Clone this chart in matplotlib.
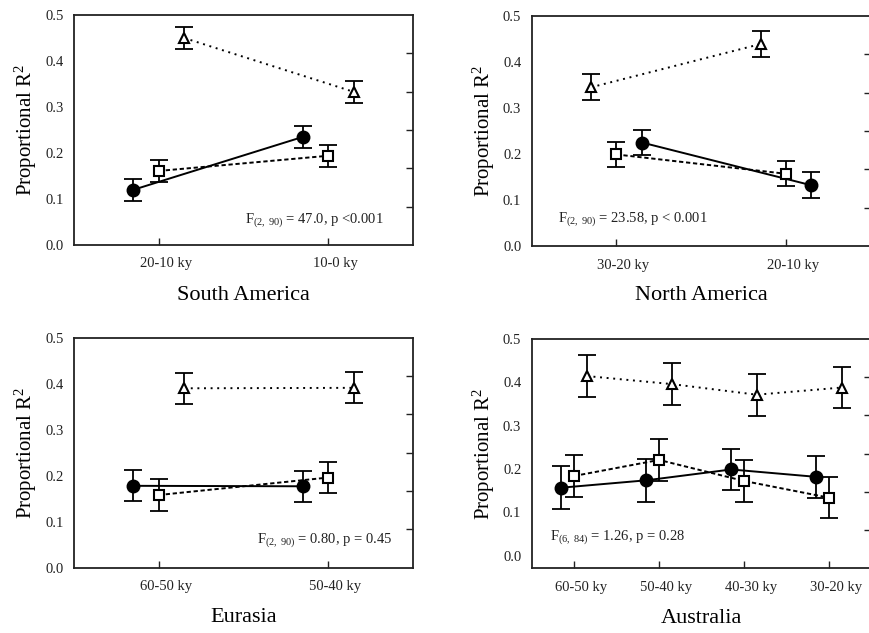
import matplotlib
matplotlib.use("Agg")
import matplotlib.pyplot as plt
import matplotlib.transforms as mtransforms
import numpy as np

plt.rcParams['font.family'] = ['Liberation Serif', 'DejaVu Serif']
plt.rcParams['mathtext.default'] = 'regular'

# ---------------- data ----------------
sa_periods = ["20-10 ky", "10-0 ky"]
sa_circle = [0.120, 0.235]
sa_circle_err = [0.024, 0.024]
sa_square = [0.161, 0.194]
sa_square_err = [0.024, 0.024]
sa_triangle = [0.450, 0.333]
sa_triangle_err = [0.024, 0.024]
sa_stat = "F$_{(2,\\,90)}$ = 47.0, p <0.001"

na_periods = ["30-20 ky", "20-10 ky"]
na_circle = [0.225, 0.132]
na_circle_err = [0.028, 0.028]
na_square = [0.199, 0.157]
na_square_err = [0.0275, 0.0275]
na_triangle = [0.345, 0.439]
na_triangle_err = [0.028, 0.028]
na_stat = "F$_{(2,\\,90)}$ = 23.58, p < 0.001"

eu_periods = ["60-50 ky", "50-40 ky"]
eu_circle = [0.178, 0.177]
eu_circle_err = [0.034, 0.034]
eu_square = [0.158, 0.196]
eu_square_err = [0.034, 0.034]
eu_triangle = [0.390, 0.391]
eu_triangle_err = [0.034, 0.034]
eu_stat = "F$_{(2,\\,90)}$ = 0.80, p = 0.45"

au_periods = ["60-50 ky", "50-40 ky", "40-30 ky", "30-20 ky"]
au_circle = [0.157, 0.174, 0.199, 0.182]
au_circle_err = [0.049, 0.049, 0.048, 0.048]
au_square = [0.184, 0.221, 0.1725, 0.134]
au_square_err = [0.048, 0.048, 0.048, 0.048]
au_triangle = [0.4145, 0.396, 0.3715, 0.388]
au_triangle_err = [0.048, 0.048, 0.048, 0.048]
au_stat = "F$_{(6,\\,84)}$ = 1.26, p = 0.28"

# ---------------- figure ----------------
W, H = 869, 633
fig = plt.figure(figsize=(W / 100, H / 100), dpi=100)


def px_axes(left, top, width, height):
    return fig.add_axes([left / W, (H - top - height) / H, width / W, height / H])


panels = [
    dict(rect=(74, 15, 339, 230), periods=sa_periods, title="South America",
         series=[(sa_circle, sa_circle_err, -0.15), (sa_square, sa_square_err, 0.0),
                 (sa_triangle, sa_triangle_err, 0.15)],
         stat=sa_stat, stat_pos=(0.504, 0.109), ylim=(0, 0.5)),
    dict(rect=(531.7, 16, 339, 230), periods=na_periods, title="North America",
         series=[(na_circle, na_circle_err, 0.15), (na_square, na_square_err, 0.0),
                 (na_triangle, na_triangle_err, -0.15)],
         stat=na_stat, stat_pos=(0.078, 0.117), ylim=(0, 0.5)),
    dict(rect=(74, 337.7, 339, 230), periods=eu_periods, title="Eurasia",
         series=[(eu_circle, eu_circle_err, -0.15), (eu_square, eu_square_err, 0.0),
                 (eu_triangle, eu_triangle_err, 0.15)],
         stat=eu_stat, stat_pos=(0.539, 0.12), ylim=(0, 0.5)),
    dict(rect=(531.7, 339, 339.6, 229.3), periods=au_periods, title="Australia",
         series=[(au_circle, au_circle_err, -0.15), (au_square, au_square_err, 0.0),
                 (au_triangle, au_triangle_err, 0.15)],
         stat=au_stat, stat_pos=(0.054, 0.135), ylim=(-0.029, 0.5)),
]

styles = [
    dict(marker='o', ms=8.5, mfc='black', mec='black', ls='-'),
    dict(marker='s', ms=7, mfc='white', mec='black', ls=(0, (2.2, 1.4))),
    dict(marker='^', ms=6.8, mfc='white', mec='black', ls=(0, (1, 2.4))),
]

for p in panels:
    ax = px_axes(*p['rect'])
    n = len(p['periods'])
    x = np.arange(n)
    for (vals, errs, off), st in zip(p['series'], styles):
        xs = x + off
        ax.errorbar(xs, vals, yerr=errs, fmt='none', ecolor='black',
                    elinewidth=1.3, capsize=6.3, capthick=1.3, zorder=2)
        ax.plot(xs, vals, color='black', lw=1.4, linestyle=st['ls'],
                marker=st['marker'], ms=st['ms'], mfc=st['mfc'],
                mec=st['mec'], mew=1.5, zorder=3)
    ax.set_xlim(-0.5, n - 0.5)
    ax.set_ylim(*p['ylim'])
    ax.set_yticks([0.0, 0.1, 0.2, 0.3, 0.4, 0.5])
    ax.set_yticklabels(["0.0", "0.1", "0.2", "0.3", "0.4", "0.5"])
    ax.set_xticks(x)
    ax.set_xticklabels(p['periods'])
    ax.tick_params(axis='y', length=0, pad=7.5, labelsize=10.5, colors='#222222')
    ax.tick_params(axis='x', direction='in', length=5, width=1, pad=9,
                   labelsize=10.5, colors='#222222')
    offset = mtransforms.ScaledTranslation(0.07, 0, fig.dpi_scale_trans)
    for lab in ax.get_xticklabels():
        lab.set_transform(lab.get_transform() + offset)
    for s in ax.spines.values():
        s.set_linewidth(1.3)
        s.set_color('#222222')
    ax.set_ylabel("Proportional R$^2$", fontsize=15, va='center')
    ax.yaxis.set_label_coords(-48 / 339, 0.5)
    ax.set_xlabel(p['title'], fontsize=16, va='center')
    ax.xaxis.set_label_coords(0.5, -50 / 230)
    ax.text(p['stat_pos'][0], p['stat_pos'][1], p['stat'], transform=ax.transAxes,
            fontsize=10.5, ha='left', va='center', color='#222222')
    # right-side inward ticks dividing the height into six parts
    ax2 = ax.twinx()
    ax2.set_ylim(0, 1)
    ax2.set_yticks([1 / 6, 2 / 6, 3 / 6, 4 / 6, 5 / 6])
    ax2.tick_params(axis='y', direction='in', length=5, width=1, labelright=False,
                    colors='#222222')
    for s in ax2.spines.values():
        s.set_visible(False)

fig.savefig("out.png", dpi=100)
